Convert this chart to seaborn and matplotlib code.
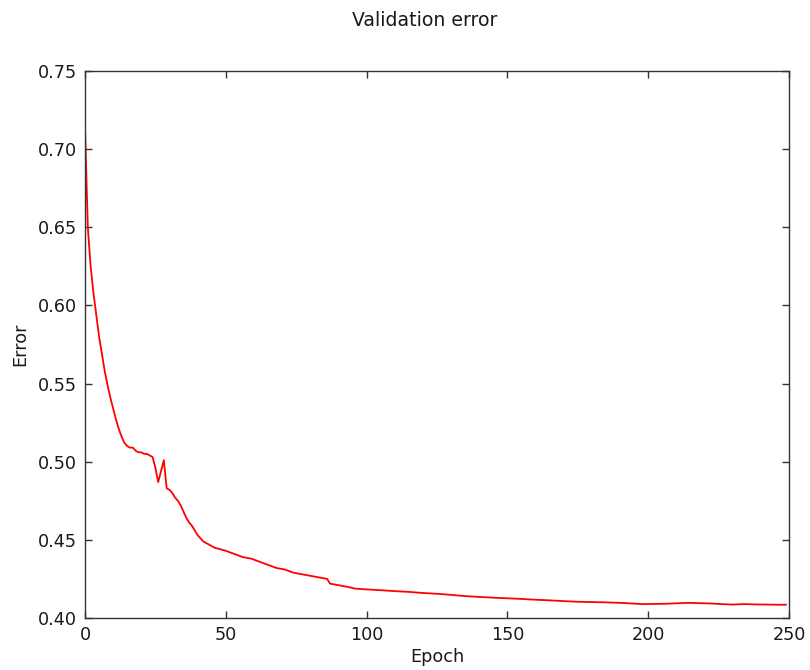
import matplotlib
matplotlib.use("Agg")
import matplotlib.pyplot as plt
import seaborn as sns
import pandas as pd

epochs = [0, 1, 2, 3, 4, 5, 6, 7, 8, 9, 10, 11, 12, 13, 14, 15, 16, 17, 18, 19,
          20, 21, 22, 23, 24, 25, 26, 27, 28, 29, 30, 31, 32, 33, 34, 35, 36, 37,
          38, 39, 40, 41, 42, 43, 44, 45, 46, 48, 50, 53, 56, 59, 62, 65, 68, 71,
          74, 77, 80, 83, 86, 87, 90, 93, 96, 100, 105, 110, 115, 120, 125, 130,
          135, 140, 145, 150, 155, 160, 165, 170, 175, 180, 185, 190, 195, 198,
          202, 206, 210, 214, 218, 222, 226, 230, 234, 238, 242, 246, 249]
errors = [0.714, 0.650, 0.625, 0.608, 0.594, 0.580, 0.569, 0.558, 0.549, 0.541,
          0.534, 0.527, 0.521, 0.516, 0.512, 0.510, 0.509, 0.509, 0.507, 0.506,
          0.506, 0.505, 0.505, 0.504, 0.503, 0.496, 0.487, 0.494, 0.501, 0.483,
          0.482, 0.480, 0.477, 0.475, 0.472, 0.468, 0.464, 0.461, 0.459, 0.456,
          0.453, 0.451, 0.449, 0.448, 0.447, 0.446, 0.445, 0.444, 0.443, 0.441,
          0.439, 0.438, 0.436, 0.434, 0.432, 0.431, 0.429, 0.428, 0.427, 0.426,
          0.425, 0.422, 0.421, 0.420, 0.4188, 0.4183, 0.4178, 0.4172, 0.4167,
          0.4160, 0.4155, 0.4148, 0.4140, 0.4135, 0.4130, 0.4126, 0.4122, 0.4117,
          0.4113, 0.4108, 0.4104, 0.4102, 0.4100, 0.4097, 0.4092, 0.4089, 0.4090,
          0.4091, 0.4094, 0.4097, 0.4095, 0.4093, 0.4089, 0.4086, 0.4089, 0.4087,
          0.4086, 0.4085, 0.4085]

x_ticks = [0, 50, 100, 150, 200, 250]
y_ticks = [0.40, 0.45, 0.50, 0.55, 0.60, 0.65, 0.70, 0.75]

df = pd.DataFrame({"Epoch": epochs, "Error": errors})

sns.set_style("ticks", {
    "xtick.direction": "in", "ytick.direction": "in",
    "axes.edgecolor": "#333333", "xtick.color": "#333333", "ytick.color": "#333333",
})
plt.rcParams["font.family"] = ["DejaVu Sans"]
plt.rcParams["font.size"] = 12.7
plt.rcParams["text.color"] = "#1a1a1a"

fig = plt.figure(figsize=(8.1, 6.7), dpi=100)
ax = fig.add_axes([85 / 810, 1 - 618 / 670, (789 - 85) / 810, (618 - 71) / 670])

sns.lineplot(data=df, x="Epoch", y="Error", ax=ax, color="red", linewidth=1.3)

ax.set_xlim(0, 250)
ax.set_ylim(0.40, 0.75)
ax.set_xticks(x_ticks)
ax.set_xticklabels([str(t) for t in x_ticks])
ax.set_yticks(y_ticks)
ax.set_yticklabels([f"{t:.2f}" for t in y_ticks])
ax.tick_params(axis="both", which="major", direction="in", length=5, width=1,
               top=True, right=True, labelsize=12.7, pad=6, colors="#333333",
               labelcolor="#1a1a1a")
for s in ax.spines.values():
    s.set_linewidth(1.0)
    s.set_color("#333333")
ax.set_xlabel("Epoch", fontsize=12.7, labelpad=3, color="#1a1a1a")
ax.set_ylabel("Error", fontsize=12.7, labelpad=6, color="#1a1a1a")
fig.text(425 / 810, 1 - 21 / 670, "Validation error", ha="center", va="center",
         fontsize=13.6, color="#1a1a1a")

fig.savefig("out.png", dpi=100)
